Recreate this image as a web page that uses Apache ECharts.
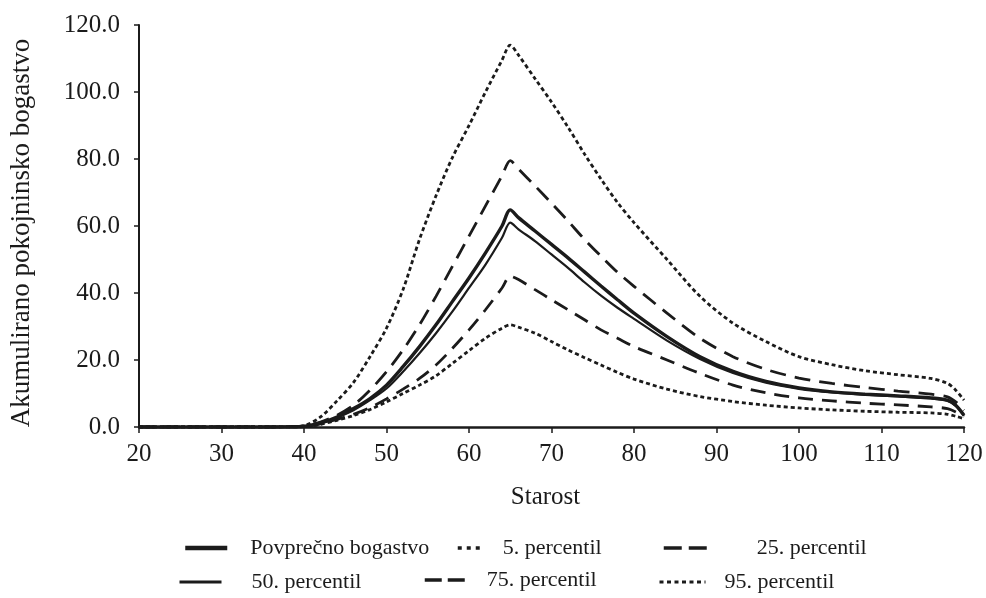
<!DOCTYPE html>
<html>
<head>
<meta charset="utf-8">
<script src="https://cdn.jsdelivr.net/npm/echarts@6/dist/echarts.min.js"></script>
<style>
  html, body { margin: 0; padding: 0; background: #fff; }
  #chart { width: 986px; height: 598px; }
</style>
</head>
<body>
<div id="chart"></div>
<script>
// Age (years) at which each value is sampled
const ages = [20, 30, 36, 38, 40, 42, 44, 46, 48, 50, 52, 54, 56, 58, 60, 62, 64, 65,
              66, 68, 70, 72, 74, 76, 78, 80, 84, 88, 92, 96, 100, 104, 108, 112, 116, 118, 119, 120];

// Accumulated pension wealth per series
const meanWealth = [0, 0, 0, 0.05, 0.2, 1.2, 3, 5.5, 8.5, 12.5, 18, 24, 30.5, 37.5, 44.5, 52, 60, 64.8,
                    62.5, 58.5, 54.5, 50.5, 46.3, 42.1, 38, 34, 27, 21, 16.6, 13.6, 11.7, 10.5, 9.8, 9.3, 8.7, 8, 6.5, 3.5];
const p5  = [0, 0, 0, 0.05, 0.1, 0.8, 2, 3.4, 5.2, 7.5, 10, 12.5, 15.3, 19, 22.8, 26.5, 29.5, 30.5,
             29.8, 28, 25.5, 23, 20.7, 18.5, 16.3, 14.3, 11.3, 9.1, 7.6, 6.5, 5.7, 5.1, 4.7, 4.4, 4.2, 3.8, 3.2, 2.5];
const p25 = [0, 0, 0, 0.05, 0.1, 0.9, 2.3, 3.8, 5.8, 8.4, 11.3, 14.5, 18.5, 23.5, 29, 35, 41.5, 45,
             44, 41, 38, 35, 32, 29, 26.5, 24, 20, 16, 12.5, 10.2, 8.7, 7.8, 7.1, 6.6, 6, 5.5, 4.5, 3];
const p50 = [0, 0, 0, 0.05, 0.2, 1, 2.8, 5, 8, 11.5, 16.5, 22, 28, 34.5, 41.5, 48.5, 56.5, 61,
             59, 55.5, 51.5, 47.5, 43.2, 39.2, 35.6, 32.3, 25.8, 20.3, 16.1, 13.2, 11.4, 10.3, 9.6, 9.1, 8.5, 7.8, 6.3, 3.3];
const p75 = [0, 0, 0, 0.05, 0.3, 1.5, 3.5, 6.5, 11, 16.5, 23, 30.5, 39, 48, 57, 66, 75, 79.5,
             77, 72, 66.8, 61.5, 56, 51, 46.2, 42, 34, 26.5, 21, 17.2, 14.6, 13, 11.8, 10.7, 9.8, 9, 7.5, 5];
const p95 = [0, 0, 0, 0.05, 0.4, 3, 7.8, 13.3, 21, 29.5, 41, 56, 69, 80.5, 90, 100, 109.5, 114,
             111, 104, 97, 89.5, 81.5, 74, 67, 61, 50, 39, 31, 25.5, 21, 18.6, 16.8, 15.6, 14.5, 13, 11, 8];

const seriesNames = ['Povprečno bogastvo', '5. percentil', '25. percentil',
                     '50. percentil', '75. percentil', '95. percentil'];
const xTicks = { min: 20, max: 120, step: 10 };
const yTicks = { min: 0, max: 120, step: 20 };

const pairs = vals => ages.map((a, i) => [a, vals[i]]);
const serif = 'Liberation Serif, Times New Roman, serif';
const ink = '#1b1b1b';

function lineSeries(name, vals, width, type) {
  return {
    name: name,
    type: 'line',
    data: pairs(vals),
    symbol: 'none',
    showSymbol: false,
    smooth: 0.3,
    lineStyle: { color: ink, width: width, type: type },
    itemStyle: { color: ink },
    z: 3
  };
}

// One legend block per entry so the two rows line up as laid out
function legendAt(name, left, top, textPad, width, lineW, dash, textShift) {
  const shift = textShift || 0;
  return {
    data: [name],
    left: left,
    top: top,
    padding: 0,
    itemWidth: width,
    itemHeight: 14,
    selectedMode: false,
    itemStyle: { opacity: 0 },
    lineStyle: { color: ink, width: lineW, type: dash },
    textStyle: {
      fontFamily: serif, fontSize: 22, color: ink,
      padding: [shift > 0 ? shift : 0, 0, shift < 0 ? -shift : 0, textPad]
    }
  };
}

const chart = echarts.init(document.getElementById('chart'), null, { renderer: 'canvas' });
chart.setOption({
  backgroundColor: '#fff',
  animation: false,
  grid: { left: 137, right: 22, top: 25, bottom: 171, containLabel: false },
  xAxis: {
    type: 'value',
    min: xTicks.min, max: xTicks.max, interval: xTicks.step,
    name: 'Starost',
    nameLocation: 'middle',
    nameGap: 58,
    nameTextStyle: { fontFamily: serif, fontSize: 25, color: ink, padding: [0, 12, 0, 0] },
    axisLine: { show: true, onZero: false, lineStyle: { color: ink, width: 2.5 } },
    axisTick: { show: true, length: 6, lineStyle: { color: ink, width: 1.5 } },
    axisLabel: { fontFamily: serif, fontSize: 25, color: ink, margin: 15 },
    splitLine: { show: false }
  },
  yAxis: {
    type: 'value',
    min: yTicks.min, max: yTicks.max, interval: yTicks.step,
    name: 'Akumulirano pokojninsko bogastvo',
    nameLocation: 'middle',
    nameGap: 104,
    nameRotate: 90,
    nameTextStyle: { fontFamily: serif, fontSize: 27, color: ink, padding: [0, 14, 0, 0] },
    axisLine: { show: true, lineStyle: { color: ink, width: 2 } },
    axisTick: { show: true, length: 5, lineStyle: { color: ink, width: 1.5 } },
    axisLabel: { fontFamily: serif, fontSize: 25, color: ink, margin: 19,
                 formatter: v => v.toFixed(1) },
    splitLine: { show: false }
  },
  legend: [
    legendAt(seriesNames[0], 183, 537, 18, 42, 4.5, 'solid', 2),
    legendAt(seriesNames[1], 456, 537, 14, 26, 3.5, [4, 5], 2),
    legendAt(seriesNames[2], 662, 537, 45, 43, 3.5, [18, 7], -6),
    legendAt(seriesNames[3], 178, 571, 25, 42, 3, 'solid', 6),
    legendAt(seriesNames[4], 423, 569, 17, 40, 3.5, [17, 6], 0),
    legendAt(seriesNames[5], 658, 571, 14, 46, 3, [4, 3.5], 2)
  ],
  series: [
    lineSeries(seriesNames[0], meanWealth, 3.4, 'solid'),
    lineSeries(seriesNames[1], p5, 2.8, [4, 3]),
    lineSeries(seriesNames[2], p25, 2.8, [15, 9]),
    lineSeries(seriesNames[3], p50, 2.2, 'solid'),
    lineSeries(seriesNames[4], p75, 2.8, [16, 9]),
    lineSeries(seriesNames[5], p95, 2.8, [4, 3])
  ]
});
</script>
</body>
</html>
